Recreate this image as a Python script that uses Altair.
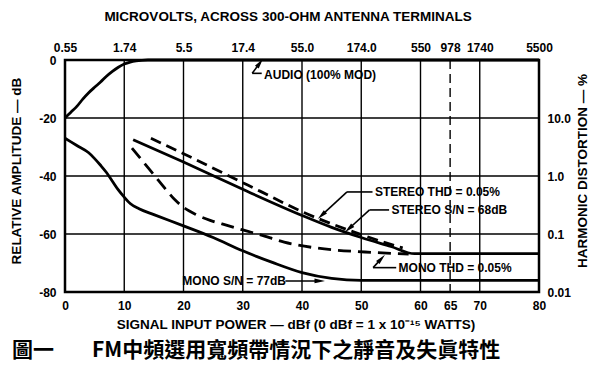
import altair as alt
import pandas as pd

# ---------------- data ----------------
x_ticks = [0, 10, 20, 30, 40, 50, 60, 65, 70, 80]
top_tick_labels = ["0.55", "1.74", "5.5", "17.4", "55.0", "174.0", "550", "978", "1740", "5500"]
y_ticks = [0, -20, -40, -60, -80]
right_tick_values = [-20, -40, -60, -80]
right_tick_labels = ["10.0", "1.0", "0.1", "0.01"]
grid_x = [10, 20, 30, 40, 50, 60, 70]
grid_y = [-20, -40, -60]
dashed_grid_x = [65]

audio_x = [0, 1, 2, 3, 4, 5, 6, 7, 8, 9, 10, 11, 12, 13, 14, 80]
audio_y = [-20, -18, -16, -13.5, -11.3, -9.4, -7.6, -5.6, -3.9, -2.5, -1.4, -0.7, -0.3, -0.1, 0, 0]

mono_sn_x = [0, 2, 4, 5, 6, 7, 8, 9, 10, 11, 12.5, 15, 20, 25, 30, 35, 40, 45, 50, 80]
mono_sn_y = [-27, -29.5, -32, -34, -36.3, -38.8, -41.8, -44.8, -47.3, -49.5, -51.3, -53.3,
             -57.2, -61.2, -65.8, -69.8, -73.3, -75.3, -76, -76]

stereo_sn_x = [11.5, 20, 30, 40, 45, 50, 55, 59, 80]
stereo_sn_y = [-27.5, -35.2, -44.6, -53.6, -57.7, -61.2, -64.3, -66.8, -66.8]

stereo_thd_x = [14.5, 20, 30, 33, 40, 45, 50, 55, 57]
stereo_thd_y = [-27, -32.3, -42.3, -45.3, -52.3, -56.5, -60.2, -63.6, -64.8]

mono_thd_x = [11.3, 13, 15, 17, 18.6, 20, 22, 24.5, 27.5, 30, 33, 37, 42.7, 50.6, 58]
mono_thd_y = [-30.4, -34.6, -39.6, -44.6, -48.3, -50.8, -53.2, -55.3, -57.1, -58.6,
              -60.3, -62.8, -64.9, -66.2, -66.9]

ann_text = ["AUDIO (100% MOD)", "STEREO THD = 0.05%", "STEREO S/N = 68dB",
            "MONO THD = 0.05%", "MONO S/N = 77dB"]
ann_x = [33.6, 52.3, 55.1, 56.3, 19.8]
ann_y = [-5.2, -45.5, -51.7, -71.6, -76.2]

lead_x = [31.6, 31.6, 47.6, 47.6, 51.4, 51.4, 52.0, 52.0, 37.2]
lead_y = [-4.6, -4.6, -45.5, -45.5, -51.7, -51.7, -71.6, -71.6, -76.2]
lead_x2 = [33.2, 32.9, 51.9, 43.3, 54.7, 47.9, 55.9, 53.4, 43.0]
lead_y2 = [-4.6, -1.0, -45.5, -53.6, -51.7, -58.2, -71.6, -68.5, -76.2]

head_x = [32.9, 43.3, 47.9, 53.4, 43.0]
head_y = [-1.0, -53.6, -58.2, -68.5, -76.2]
head_angle = [36, 227, 228, 43, 90]

top_title = "MICROVOLTS, ACROSS 300-OHM ANTENNA TERMINALS"
bottom_title = "SIGNAL INPUT POWER — dBf (0 dBf = 1 x 10⁻¹⁵ WATTS)"
left_title = "RELATIVE AMPLITUDE — dB"
right_title = "HARMONIC DISTORTION — %"
caption_fig = "圖一"
caption_text = "FM中頻選用寬頻帶情況下之靜音及失眞特性"

# ---------------- build ----------------
FONT = "Liberation Sans"
W, H = 474, 232

def curve_df(name, xs, ys):
    return pd.DataFrame({"series": name, "x": xs, "y": ys, "i": range(len(xs))})

solid_df = pd.concat([
    curve_df("audio", audio_x, audio_y),
    curve_df("mono_sn", mono_sn_x, mono_sn_y),
    curve_df("stereo_sn", stereo_sn_x, stereo_sn_y),
])
stereo_thd_df = curve_df("stereo_thd", stereo_thd_x, stereo_thd_y)
mono_thd_df = curve_df("mono_thd", mono_thd_x, mono_thd_y)

x_scale = alt.Scale(domain=[0, 80], nice=False, zero=False)
y_scale = alt.Scale(domain=[-80, 0], nice=False, zero=False)

axis_common = dict(domain=False, ticks=False, grid=False, labelFont=FONT,
                   labelFontSize=12, labelFontWeight="bold", labelColor="black",
                   labelOverlap=False, labelFlush=False)

def cond_expr(values, labels):
    return "".join(f"datum.value == {v} ? '{l}' : " for v, l in zip(values, labels)) + "''"

bottom_axis = alt.Axis(orient="bottom", values=x_ticks, labelPadding=8,
                       labelExpr="toString(datum.value)", **axis_common)
left_axis = alt.Axis(orient="left", values=y_ticks, labelPadding=9,
                     labelExpr="toString(datum.value)", **axis_common)
top_axis = alt.Axis(orient="top", values=x_ticks, labelPadding=6,
                    labelExpr=cond_expr(x_ticks, top_tick_labels), **axis_common)
right_axis = alt.Axis(orient="right", values=right_tick_values, labelPadding=8,
                      labelExpr=cond_expr(right_tick_values, right_tick_labels), **axis_common)

def X(field, axis=None):
    if axis is None:
        return alt.X(field, type="quantitative", scale=x_scale, axis=None, title=None)
    return alt.X(field, type="quantitative", scale=x_scale, axis=axis, title=None)

def Y(field, axis=None):
    if axis is None:
        return alt.Y(field, type="quantitative", scale=y_scale, axis=None, title=None)
    return alt.Y(field, type="quantitative", scale=y_scale, axis=axis, title=None)

vgrid = alt.Chart(pd.DataFrame({"x": grid_x})).mark_rule(
    color="black", strokeWidth=1.4).encode(x=X("x"))
hgrid = alt.Chart(pd.DataFrame({"y": grid_y})).mark_rule(
    color="black", strokeWidth=1.4).encode(y=Y("y"))
dgrid = alt.Chart(pd.DataFrame({"x": dashed_grid_x})).mark_rule(
    color="black", strokeWidth=1.4, strokeDash=[9, 5]).encode(x=X("x"))

solid = alt.Chart(solid_df).mark_line(
    color="black", strokeWidth=2.8, interpolate="monotone").encode(
    x=X("x", bottom_axis), y=Y("y", left_axis), detail="series:N", order="i:Q")

stereo_thd = alt.Chart(stereo_thd_df).mark_line(
    color="black", strokeWidth=2.8, strokeDash=[11, 6], interpolate="monotone").encode(
    x=X("x", top_axis), y=Y("y", right_axis), order="i:Q")

mono_thd = alt.Chart(mono_thd_df).mark_line(
    color="black", strokeWidth=2.8, strokeDash=[13, 7], interpolate="monotone").encode(
    x=X("x"), y=Y("y"), order="i:Q")

leaders = alt.Chart(pd.DataFrame({"x": lead_x, "y": lead_y, "x2": lead_x2, "y2": lead_y2})).mark_rule(
    color="black", strokeWidth=1.6).encode(x=X("x"), y=Y("y"), x2="x2:Q", y2="y2:Q")

heads = alt.Chart(pd.DataFrame({"x": head_x, "y": head_y, "a": head_angle})).mark_point(
    shape="M0,-1L0.45,1L-0.45,1Z", filled=True, color="black", opacity=1, size=110).encode(
    x=X("x"), y=Y("y"), angle=alt.Angle("a:Q", scale=None))

ann = alt.Chart(pd.DataFrame({"x": ann_x, "y": ann_y, "t": ann_text})).mark_text(
    align="left", baseline="middle", font=FONT, fontSize=12, fontWeight="bold", color="black").encode(
    x=X("x"), y=Y("y"), text="t:N")

def label(txt, px, py, size, angle=0, align="center", font=FONT):
    kw = dict(align=align, baseline="middle", font=font, fontSize=size,
              fontWeight="bold", color="black")
    if angle:
        kw["angle"] = angle
    return alt.Chart(pd.DataFrame({"t": [txt]})).mark_text(**kw).encode(
        x=alt.value(px), y=alt.value(py), text="t:N")

titles = [
    label(top_title, 223, -43, 13.5),
    label(bottom_title, 231, 265, 13.5),
    label(left_title, -48, 111, 13.5, angle=270),
    label(right_title, 518, 111, 13.5, angle=270),
    label(caption_fig, -53, 291, 21, align="left", font="Noto Sans CJK TC"),
    label(caption_text, 27, 291, 21, align="left", font="Noto Sans CJK TC"),
]

chart = alt.layer(
    vgrid, hgrid, dgrid, solid, stereo_thd, mono_thd, leaders, heads, ann, *titles
).resolve_axis(x="independent", y="independent").properties(
    width=W, height=H,
    padding={"left": 57, "top": 52, "right": 53, "bottom": 70},
    autosize=alt.AutoSizeParams(type="none"),
    background="white",
).configure_view(stroke="black", strokeWidth=2.5)

chart.save("out.html", embed_options={"renderer": "svg", "actions": False})
